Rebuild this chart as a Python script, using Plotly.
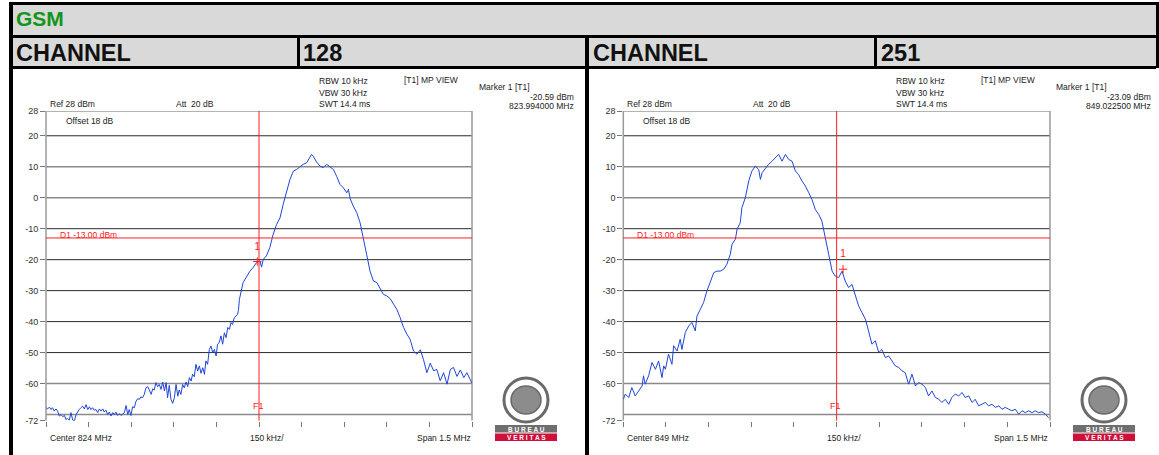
import plotly.graph_objects as go

W, H = 1159, 455

# ---------------- data ----------------
channels = ["128", "251"]
center_mhz = [824.0, 849.0]
span_mhz = 1.5
marker_mhz = [823.994, 849.0225]
marker_dbm = [-20.59, -23.09]
marker_text = ["-20.59 dBm", "-23.09 dBm"]
marker_freq_text = ["823.994000 MHz", "849.022500 MHz"]
center_text = ["Center 824 MHz", "Center 849 MHz"]
d1_limit = -13.0
ytick_vals = [28, 20, 10, 0, -10, -20, -30, -40, -50, -60, -72]
grid_vals = [20, 10, 0, -10, -20, -30, -40, -50, -60, -70]

ch128_offset_khz = [-750, -744, -738, -732, -727, -721, -715, -709, -703, -697, -691, -685, -680, -674,
                    -668, -662, -656, -650, -644, -638, -633, -627, -621, -615, -609, -603, -597, -592,
                    -586, -580, -574, -568, -562, -556, -550, -545, -539, -533, -527, -521, -515, -509,
                    -504, -498, -492, -486, -480, -474, -468, -462, -457, -451, -445, -439, -433, -427,
                    -421, -416, -410, -404, -398, -392, -386, -380, -374, -369, -363, -357, -351, -345,
                    -339, -333, -327, -322, -316, -310, -304, -298, -292, -286, -281, -275, -269, -263,
                    -257, -251, -245, -239, -234, -228, -222, -216, -210, -204, -198, -192, -187, -181,
                    -175, -169, -163, -157, -151, -146, -140, -134, -128, -122, -116, -110, -104, -99,
                    -93, -87, -81, -75, -72, -69,
                    -56, -44, -32, -21, -9, 3, 9, 15, 26, 38, 50, 62, 74, 85, 97, 109,
                    121, 132, 144, 156, 168, 179, 185, 191, 203, 215, 226, 238, 250, 262, 274, 285, 297,
                    309, 315, 321, 332, 344, 356, 368, 379, 391, 403, 415, 426, 438, 450, 462, 474, 485,
                    497, 509, 521, 532, 544, 556, 568, 579, 591, 603, 615, 626, 638, 650, 662, 674, 685,
                    697, 709, 721, 732, 744, 750]
ch128_dbm = [-67.8, -68.2, -67.6, -68.4, -67.8, -68.9, -68.2, -68.9, -70.5, -70.0, -70.7, -70.3, -71.6, -71.3,
             -71.8, -69.4, -71.8, -72.0, -70.0, -68.9, -68.4, -67.8, -67.3, -68.2, -66.8, -68.4, -67.5, -68.4,
             -67.8, -68.6, -68.4, -69.4, -68.2, -68.9, -68.2, -69.2, -68.6, -70.0, -69.2, -70.5, -69.4, -70.0,
             -69.2, -70.3, -69.7, -70.3, -69.8, -69.4, -67.1, -70.0, -68.4, -70.3, -67.5, -67.8, -65.7, -64.9,
             -65.1, -64.3, -64.6, -63.5, -61.4, -61.0, -62.1, -63.5, -61.7, -62.1, -59.7, -61.0, -60.3, -61.9,
             -59.5, -62.4, -59.7, -64.6, -60.6, -65.1, -66.4, -64.6, -60.3, -64.1, -62.1, -63.5, -60.3, -61.4,
             -59.5, -61.0, -58.1, -59.2, -57.0, -57.8, -53.8, -56.0, -54.3, -56.7, -54.9, -57.0, -52.7, -53.8,
             -49.0, -47.9, -50.0, -49.0, -51.1, -47.3, -46.8, -44.6, -47.3, -43.6, -45.2, -41.9, -42.5, -40.3,
             -40.9, -38.7, -38.2, -37.6, -36.0, -32.8,
             -27.4, -25.3, -23.7, -22.6, -21.0, -20.4, -22.4, -19.9, -18.8, -16.1, -11.8,
             -8.6, -6.5, -2.2, 1.6, 5.9, 8.6, 9.1, 10.0, 10.8, 11.3, 12.9, 14.0, 13.4, 11.5, 10.2, 9.7, 10.8,
             10.0, 9.1, 6.8, 4.3, 3.2, 1.6, 2.7, -0.3, -2.7, -4.8, -8.1, -12.9, -18.3, -23.7, -26.9, -27.4,
             -29.0, -31.2, -31.7, -32.6, -34.4, -36.0, -38.7, -41.9, -44.1, -45.7, -49.5, -50.5, -49.1, -52.2,
             -56.5, -53.4, -55.9, -55.4, -59.1, -56.5, -60.2, -55.4, -54.8, -57.7, -55.6, -58.1, -56.5, -59.1,
             -59.9]

ch251_offset_khz = [-750, -743, -731, -720, -708, -696, -684, -679, -673, -661, -649, -637, -626, -614,
                    -608, -602, -591, -579, -573, -561, -550, -544, -532, -520, -509, -497, -491, -479,
                    -468, -456, -444, -432, -421, -409, -397, -386, -374, -368, -356, -350, -339, -333,
                    -321, -309, -298, -286, -274, -268, -262, -251, -239, -227, -216, -204, -192, -180,
                    -169, -157, -145, -134, -122, -110, -98, -87, -75, -63, -52, -40, -28, -16, -5, 7, 19,
                    30, 42, 54, 66, 77, 89, 101, 112, 124, 136, 148, 159, 171, 183, 195, 206, 218, 230,
                    241, 253, 265, 277, 288, 300, 312, 323, 335, 347, 359, 370, 382, 394, 405, 417, 429,
                    441, 452, 464, 476, 487, 499, 511, 523, 534, 546, 558, 570, 581, 593, 605, 616, 628,
                    640, 652, 663, 675, 687, 698, 710, 722, 734, 745]
ch251_dbm = [-65.1, -63.4, -64.5, -61.3, -64.0, -62.4, -60.8, -57.5, -60.2, -57.5, -53.2, -55.4, -52.7, -58.1,
             -54.3, -55.4, -50.5, -53.8, -47.8, -49.5, -45.7, -49.0, -43.5, -41.4, -40.3, -43.0, -38.2, -36.0,
             -33.9, -30.1, -27.4, -24.2, -23.7, -23.7, -23.1, -21.5, -18.3, -15.1, -13.4, -10.2, -8.1, -3.2,
             0.0, 5.4, 8.6, 10.2, 9.1, 5.9, 8.1, 9.4, 10.8, 11.8, 12.9, 14.0, 11.8, 14.0, 12.4, 11.8, 8.6,
             7.5, 5.4, 3.8, 1.6, -0.5, -3.8, -5.4, -7.5, -12.4, -18.3, -23.7, -25.3, -25.8, -23.7, -26.9,
             -29.0, -28.0, -31.7, -34.9, -37.1, -39.2, -43.0, -47.3, -46.2, -50.0, -49.0, -51.6, -51.1, -52.7,
             -54.3, -54.8, -55.9, -56.5, -60.2, -57.0, -60.8, -59.7, -60.2, -61.3, -64.0, -62.4, -64.5, -65.1,
             -66.1, -65.1, -66.7, -64.5, -63.4, -64.0, -62.9, -64.5, -64.0, -66.1, -65.1, -67.2, -66.7, -66.1,
             -67.2, -66.7, -67.7, -67.2, -68.3, -67.7, -68.3, -68.8, -68.3, -69.9, -68.8, -69.4, -68.8, -69.4,
             -68.8, -69.4, -69.1, -69.9, -71.0]

offsets = [ch128_offset_khz, ch251_offset_khz]
levels = [ch128_dbm, ch251_dbm]

# ---------------- helpers ----------------
def px(x):
    return x / W

def py(y):
    return 1 - y / H

FONT = "Liberation Sans, Arial, sans-serif"
TRACE = "#1f45d6"
RED = "#ff2020"

fig = go.Figure()
shapes = []
ann = []

def rect(x0, y0, x1, y1, color, layer="below"):
    shapes.append(dict(type="rect", xref="paper", yref="paper", x0=px(x0), x1=px(x1),
                       y0=py(y1), y1=py(y0), fillcolor=color, line=dict(width=0), layer=layer))

def text(x, y, s, size=8.5, color="#222", xanchor="left", bold=False, yanchor="middle"):
    ann.append(dict(xref="paper", yref="paper", x=px(x), y=py(y), text=("<b>%s</b>" % s) if bold else s,
                    showarrow=False, xanchor=xanchor, yanchor=yanchor, borderpad=0,
                    font=dict(family=FONT, size=size, color=color)))

# ---------------- table frame ----------------
rect(9, 2, 1159, 5, "#000")
rect(9, 2, 13, 455, "#000")
rect(1156, 2, 1159, 68, "#000")
rect(13, 5, 1156, 35, "#d9d9d9")
rect(13, 35, 1156, 38, "#000")
rect(13, 38, 1156, 66, "#d9d9d9")
rect(13, 66, 1156, 69, "#000")
rect(297, 38, 300, 66, "#000")
rect(585, 38, 589, 455, "#000")
rect(874, 38, 877, 66, "#000")

text(15, 19, "GSM", size=21, color="#13951a", bold=True)
text(15, 53, "CHANNEL", size=23.5, color="#111", bold=True)
text(302, 53, channels[0], size=23.5, color="#111", bold=True)
text(592, 53, "CHANNEL", size=23.5, color="#111", bold=True)
text(880, 53, channels[1], size=23.5, color="#111", bold=True)

# ---------------- plots ----------------
ydom = [py(420.7), py(111)]
xdoms = [[px(46), px(472)], [px(623.3), px(1050)]]
panel_dx = [0, 577.3]
axis_layout = {}

for i in range(2):
    xa = "x" if i == 0 else "x2"
    ya = "y" if i == 0 else "y2"
    c = center_mhz[i]
    xs = [c + o / 1000.0 for o in offsets[i]]
    fig.add_trace(go.Scatter(x=xs, y=levels[i], mode="lines", xaxis=xa, yaxis=ya,
                             line=dict(color=TRACE, width=1), hoverinfo="skip", showlegend=False))
    fig.add_trace(go.Scatter(x=[marker_mhz[i]], y=[marker_dbm[i]], mode="markers", xaxis=xa, yaxis=ya,
                             marker=dict(symbol="cross-thin", size=6, line=dict(color=RED, width=1)),
                             hoverinfo="skip", showlegend=False))
    fig.add_trace(go.Scatter(x=[marker_mhz[i]], y=[marker_dbm[i] + 4.6], mode="text", xaxis=xa, yaxis=ya,
                             text=["1"], textfont=dict(family=FONT, size=10, color=RED),
                             hoverinfo="skip", showlegend=False))

    xr = "x domain" if i == 0 else "x2 domain"
    for g in grid_vals:
        light = g in (10, 0, -60, -70)
        shapes.append(dict(type="line", xref=xr, yref=ya, x0=0, x1=1, y0=g, y1=g,
                           line=dict(color="#8a8a8a" if light else "#2a2a2a", width=1.6 if light else 1),
                           layer="below"))
    for xx in (0, 1):
        shapes.append(dict(type="line", xref=xr, yref=ya, x0=xx, x1=xx, y0=-72, y1=28,
                           line=dict(color="#9a9a9a", width=1.5), layer="below"))
    shapes.append(dict(type="line", xref=xr, yref=ya, x0=0, x1=1, y0=28, y1=28,
                       line=dict(color="#9a9a9a", width=1.5), layer="below"))
    shapes.append(dict(type="line", xref=xr, yref=ya, x0=0, x1=1, y0=d1_limit, y1=d1_limit,
                       line=dict(color=RED, width=1), layer="above"))
    shapes.append(dict(type="line", xref=xa, yref=ya, x0=c, x1=c, y0=-73.5, y1=28,
                       line=dict(color=RED, width=1), layer="above"))

    dx = panel_dx[i]
    text(58.5 + dx, 235, "D1 -13.00 dBm", size=8.5, color=RED)
    text(258 + dx, 405.5, "F1", size=9, color=RED, xanchor="center")
    text(49 + dx, 104.5, "Ref 28 dBm")
    text(175 + dx, 104.5, "Att  20 dB")
    text(65 + dx, 121, "Offset 18 dB")
    text(318 + dx, 81, "RBW 10 kHz")
    text(318 + dx, 93, "VBW 30 kHz")
    text(318 + dx, 104.5, "SWT 14.4 ms")
    text(403 + dx, 80, "[T1] MP VIEW")
    text(478 + dx, 87, "Marker 1 [T1]")
    text(575 + dx, 97, marker_text[i], xanchor="right")
    text(575 + dx, 106, marker_freq_text[i], xanchor="right")
    text(49 + dx, 437.5, center_text[i])
    text(249 + dx, 437.5, "150 kHz/")
    text(471.5 + dx, 437.5, "Span 1.5 MHz", xanchor="right")

    # Bureau Veritas logo
    lx = 526 + (0 if i == 0 else 578)
    shapes.append(dict(type="circle", xref="paper", yref="paper", x0=px(lx - 22), x1=px(lx + 22),
                       y0=py(422), y1=py(378), fillcolor="#ffffff", line=dict(color="#6a6a6a", width=3)))
    shapes.append(dict(type="circle", xref="paper", yref="paper", x0=px(lx - 15), x1=px(lx + 15),
                       y0=py(414), y1=py(386), fillcolor="#8c8c8c", line=dict(color="#6a6a6a", width=1.5)))
    shapes.append(dict(type="rect", xref="paper", yref="paper", x0=px(lx - 31), x1=px(lx + 31),
                       y0=py(432.5), y1=py(425), fillcolor="#6e6e6e", line=dict(width=0)))
    shapes.append(dict(type="rect", xref="paper", yref="paper", x0=px(lx - 31), x1=px(lx + 31),
                       y0=py(441), y1=py(433.5), fillcolor="#d0103a", line=dict(width=0)))
    text(lx, 429, "B U R E A U", size=6.5, color="#ffffff", xanchor="center", bold=True)
    text(lx, 437.5, "V E R I T A S", size=6.5, color="#ffffff", xanchor="center", bold=True)

    xt = [c - span_mhz / 2 + k * span_mhz / 10 for k in range(11)]
    xkey = "xaxis" if i == 0 else "xaxis2"
    ykey = "yaxis" if i == 0 else "yaxis2"
    axis_layout[xkey] = dict(domain=xdoms[i], range=[c - span_mhz / 2, c + span_mhz / 2],
                             anchor=ya, showgrid=False, zeroline=False, showline=False, automargin=False,
                             tickvals=xt, ticks="outside", ticklen=5, tickcolor="#777", tickwidth=1,
                             showticklabels=False, fixedrange=True)
    axis_layout[ykey] = dict(domain=ydom, range=[-72, 28], anchor=xa, showgrid=False, zeroline=False,
                             showline=False, automargin=False,
                             tickvals=ytick_vals, ticktext=[str(v) for v in ytick_vals],
                             ticks="outside", ticklen=5, tickcolor="#777", tickwidth=1,
                             tickfont=dict(family=FONT, size=9, color="#333"), fixedrange=True)

fig.update_layout(
    width=W, height=H, autosize=False,
    margin=dict(l=0, r=0, t=0, b=0, pad=0, autoexpand=False),
    paper_bgcolor="#ffffff", plot_bgcolor="rgba(0,0,0,0)",
    shapes=shapes, annotations=ann, showlegend=False,
    **axis_layout
)

fig.write_html("out.html", config={"displayModeBar": False},
               post_script="document.body.style.margin='0px';document.body.style.padding='0px';"
                           "document.body.style.overflow='hidden';")
